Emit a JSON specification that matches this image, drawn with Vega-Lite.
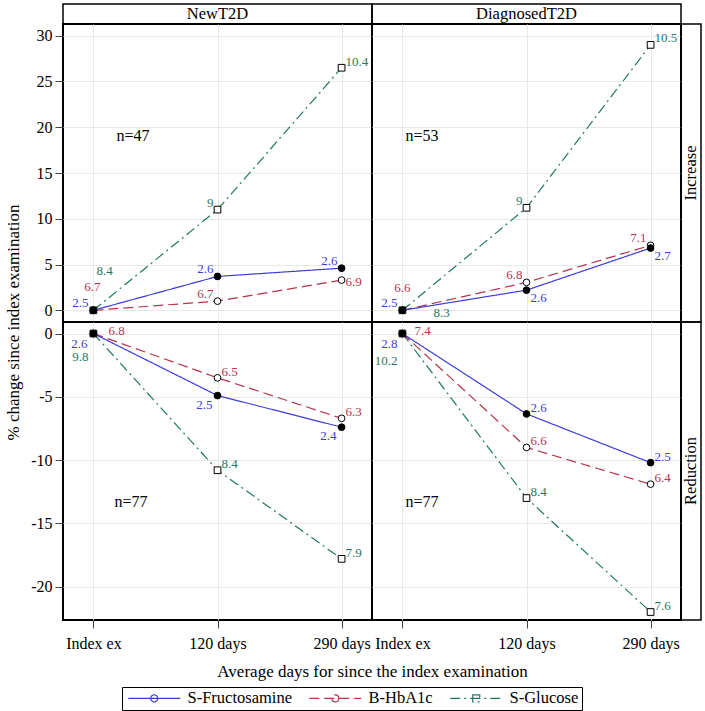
{
  "$schema": "https://vega.github.io/schema/vega-lite/v6.json",
  "background": "white",
  "padding": {"left": 3, "top": 3, "right": 2, "bottom": 2},
  "columns": 3,
  "spacing": 0,
  "bounds": "flush",
  "align": "each",
  "resolve": {"scale": {"y": "independent"}},
  "datasets": {
    "groups": [{"group": "NewT2D"}, {"group": "DiagnosedT2D"}],
    "dirs": [{"dir": "Increase"}, {"dir": "Reduction"}],
    "nInc": [{"group": "NewT2D", "ntext": "n=47"}, {"group": "DiagnosedT2D", "ntext": "n=53"}],
    "nRed": [{"group": "NewT2D", "ntext": "n=77"}, {"group": "DiagnosedT2D", "ntext": "n=77"}],
    "pts": [
      {"group": "NewT2D", "dir": "Increase", "series": "S-Glucose", "time": "Index ex", "day": 0, "value": 0, "lab": "8.4"},
      {"group": "NewT2D", "dir": "Increase", "series": "S-Glucose", "time": "120 days", "day": 120, "value": 11.0, "lab": "9"},
      {"group": "NewT2D", "dir": "Increase", "series": "S-Glucose", "time": "290 days", "day": 290, "value": 26.5, "lab": "10.4"},
      {"group": "NewT2D", "dir": "Increase", "series": "B-HbA1c", "time": "Index ex", "day": 0, "value": 0, "lab": "6.7"},
      {"group": "NewT2D", "dir": "Increase", "series": "B-HbA1c", "time": "120 days", "day": 120, "value": 1.0, "lab": "6.7"},
      {"group": "NewT2D", "dir": "Increase", "series": "B-HbA1c", "time": "290 days", "day": 290, "value": 3.3, "lab": "6.9"},
      {"group": "NewT2D", "dir": "Increase", "series": "S-Fructosamine", "time": "Index ex", "day": 0, "value": 0, "lab": "2.5"},
      {"group": "NewT2D", "dir": "Increase", "series": "S-Fructosamine", "time": "120 days", "day": 120, "value": 3.7, "lab": "2.6"},
      {"group": "NewT2D", "dir": "Increase", "series": "S-Fructosamine", "time": "290 days", "day": 290, "value": 4.6, "lab": "2.6"},

      {"group": "DiagnosedT2D", "dir": "Increase", "series": "S-Glucose", "time": "Index ex", "day": 0, "value": 0, "lab": "8.3"},
      {"group": "DiagnosedT2D", "dir": "Increase", "series": "S-Glucose", "time": "120 days", "day": 120, "value": 11.2, "lab": "9"},
      {"group": "DiagnosedT2D", "dir": "Increase", "series": "S-Glucose", "time": "290 days", "day": 290, "value": 29.0, "lab": "10.5"},
      {"group": "DiagnosedT2D", "dir": "Increase", "series": "B-HbA1c", "time": "Index ex", "day": 0, "value": 0, "lab": "6.6"},
      {"group": "DiagnosedT2D", "dir": "Increase", "series": "B-HbA1c", "time": "120 days", "day": 120, "value": 3.05, "lab": "6.8"},
      {"group": "DiagnosedT2D", "dir": "Increase", "series": "B-HbA1c", "time": "290 days", "day": 290, "value": 7.1, "lab": "7.1"},
      {"group": "DiagnosedT2D", "dir": "Increase", "series": "S-Fructosamine", "time": "Index ex", "day": 0, "value": 0, "lab": "2.5"},
      {"group": "DiagnosedT2D", "dir": "Increase", "series": "S-Fructosamine", "time": "120 days", "day": 120, "value": 2.2, "lab": "2.6"},
      {"group": "DiagnosedT2D", "dir": "Increase", "series": "S-Fructosamine", "time": "290 days", "day": 290, "value": 6.8, "lab": "2.7"},

      {"group": "NewT2D", "dir": "Reduction", "series": "S-Glucose", "time": "Index ex", "day": 0, "value": 0, "lab": "9.8"},
      {"group": "NewT2D", "dir": "Reduction", "series": "S-Glucose", "time": "120 days", "day": 120, "value": -10.8, "lab": "8.4"},
      {"group": "NewT2D", "dir": "Reduction", "series": "S-Glucose", "time": "290 days", "day": 290, "value": -17.8, "lab": "7.9"},
      {"group": "NewT2D", "dir": "Reduction", "series": "B-HbA1c", "time": "Index ex", "day": 0, "value": 0, "lab": "6.8"},
      {"group": "NewT2D", "dir": "Reduction", "series": "B-HbA1c", "time": "120 days", "day": 120, "value": -3.5, "lab": "6.5"},
      {"group": "NewT2D", "dir": "Reduction", "series": "B-HbA1c", "time": "290 days", "day": 290, "value": -6.7, "lab": "6.3"},
      {"group": "NewT2D", "dir": "Reduction", "series": "S-Fructosamine", "time": "Index ex", "day": 0, "value": 0, "lab": "2.6"},
      {"group": "NewT2D", "dir": "Reduction", "series": "S-Fructosamine", "time": "120 days", "day": 120, "value": -4.9, "lab": "2.5"},
      {"group": "NewT2D", "dir": "Reduction", "series": "S-Fructosamine", "time": "290 days", "day": 290, "value": -7.4, "lab": "2.4"},

      {"group": "DiagnosedT2D", "dir": "Reduction", "series": "S-Glucose", "time": "Index ex", "day": 0, "value": 0, "lab": "10.2"},
      {"group": "DiagnosedT2D", "dir": "Reduction", "series": "S-Glucose", "time": "120 days", "day": 120, "value": -13.0, "lab": "8.4"},
      {"group": "DiagnosedT2D", "dir": "Reduction", "series": "S-Glucose", "time": "290 days", "day": 290, "value": -22.0, "lab": "7.6"},
      {"group": "DiagnosedT2D", "dir": "Reduction", "series": "B-HbA1c", "time": "Index ex", "day": 0, "value": 0, "lab": "7.4"},
      {"group": "DiagnosedT2D", "dir": "Reduction", "series": "B-HbA1c", "time": "120 days", "day": 120, "value": -9.0, "lab": "6.6"},
      {"group": "DiagnosedT2D", "dir": "Reduction", "series": "B-HbA1c", "time": "290 days", "day": 290, "value": -11.9, "lab": "6.4"},
      {"group": "DiagnosedT2D", "dir": "Reduction", "series": "S-Fructosamine", "time": "Index ex", "day": 0, "value": 0, "lab": "2.8"},
      {"group": "DiagnosedT2D", "dir": "Reduction", "series": "S-Fructosamine", "time": "120 days", "day": 120, "value": -6.35, "lab": "2.6"},
      {"group": "DiagnosedT2D", "dir": "Reduction", "series": "S-Fructosamine", "time": "290 days", "day": 290, "value": -10.2, "lab": "2.5"}
    ]
  },
  "concat": [
    {
      "width": 309, "height": 20,
      "data": {"name": "groups"},
      "transform": [{"filter": "datum.group==='NewT2D'"}],
      "mark": {"type": "text", "fontSize": 16.5, "color": "black", "font": "Liberation Serif"},
      "encoding": {"text": {"field": "group", "type": "nominal"}},
      "view": {"stroke": "black", "strokeWidth": 1.5}
    },
    {
      "width": 309, "height": 20,
      "data": {"name": "groups"},
      "transform": [{"filter": "datum.group==='DiagnosedT2D'"}],
      "mark": {"type": "text", "fontSize": 16.5, "color": "black", "font": "Liberation Serif"},
      "encoding": {"text": {"field": "group", "type": "nominal"}},
      "view": {"stroke": "black", "strokeWidth": 1.5}
    },
    {
      "width": 20, "height": 20,
      "data": {"name": "dirs"},
      "transform": [{"filter": "false"}],
      "mark": {"type": "text"},
      "encoding": {"text": {"field": "dir", "type": "nominal"}},
      "view": {"stroke": null}
    },
    {
      "width": 309, "height": 298,
      "data": {"name": "pts"},
      "transform": [{"filter": "datum.group==='NewT2D' && datum.dir==='Increase'"}],
      "encoding": {
        "x": {"field": "time", "type": "nominal", "scale": {"type": "point", "domain": ["Index ex", "120 days", "290 days"], "padding": 0.245}, "axis": {"labels": false, "ticks": false, "title": null, "grid": true}},
        "y": {"field": "value", "type": "quantitative", "scale": {"domain": [-1.28, 31.28], "nice": false, "zero": false}, "axis": {"values": [0, 5, 10, 15, 20, 25, 30], "title": null, "grid": true, "labelExpr": "'' + datum.value", "labelFont": "Liberation Serif", "labelFontSize": 16}}
      },
      "layer": [
        {
          "mark": {"type": "line", "strokeWidth": 1.2},
          "encoding": {
            "color": {"field": "series", "type": "nominal", "scale": {"domain": ["S-Fructosamine", "B-HbA1c", "S-Glucose"], "range": ["#3d3dd6", "#b8324a", "#1f7866"]}},
            "strokeDash": {"field": "series", "type": "nominal", "scale": {"domain": ["S-Fructosamine", "B-HbA1c", "S-Glucose"], "range": [[1, 0], [10, 5], [10, 4, 2, 4]]}},
            "order": {"field": "day", "type": "quantitative"}
          }
        },
        {
          "mark": {"type": "point", "size": 45, "stroke": "black", "strokeWidth": 1, "opacity": 1},
          "encoding": {
            "shape": {"condition": {"test": "datum.series==='S-Glucose'", "value": "square"}, "value": "circle"},
            "fill": {"condition": {"test": "datum.series==='S-Fructosamine'", "value": "black"}, "value": "white"}
          }
        },
        {
          "encoding": {
            "text": {"field": "lab", "type": "nominal"},
            "color": {"condition": [{"test": "datum.series==='S-Fructosamine'", "value": "#3d3dd6"}, {"test": "datum.series==='B-HbA1c'", "value": "#b8324a"}], "value": "#1f7866"}
          },
          "layer": [
            {"transform": [{"filter": "datum.time==='120 days' || (datum.time==='290 days' && datum.series==='S-Fructosamine')"}], "mark": {"type": "text", "font": "Liberation Serif", "fontSize": 13, "baseline": "alphabetic", "align": "right", "dx": -4, "dy": -3}},
            {"transform": [{"filter": "datum.time==='290 days' && datum.series==='B-HbA1c'"}], "mark": {"type": "text", "font": "Liberation Serif", "fontSize": 13, "baseline": "middle", "align": "left", "dx": 4, "dy": 2}},
            {"transform": [{"filter": "datum.time==='290 days' && datum.series==='S-Glucose'"}], "mark": {"type": "text", "font": "Liberation Serif", "fontSize": 13, "baseline": "alphabetic", "align": "left", "dx": 4, "dy": -2}},
            {"transform": [{"filter": "datum.time==='Index ex' && datum.series==='S-Fructosamine'"}], "mark": {"type": "text", "font": "Liberation Serif", "fontSize": 13, "baseline": "alphabetic", "align": "right", "dx": -5, "dy": -3}},
            {"transform": [{"filter": "datum.time==='Index ex' && datum.series==='B-HbA1c'"}], "mark": {"type": "text", "font": "Liberation Serif", "fontSize": 13, "baseline": "alphabetic", "align": "center", "dx": -1, "dy": -19}},
            {"transform": [{"filter": "datum.time==='Index ex' && datum.series==='S-Glucose'"}], "mark": {"type": "text", "font": "Liberation Serif", "fontSize": 13, "baseline": "alphabetic", "align": "left", "dx": 3, "dy": -35}}
          ]
        },
        {
          "transform": [{"filter": "datum.time==='Index ex' && datum.series==='S-Fructosamine'"}, {"lookup": "group", "from": {"data": {"name": "nInc"}, "key": "group", "fields": ["ntext"]}}],
          "mark": {"type": "text", "font": "Liberation Serif", "fontSize": 16, "align": "left", "baseline": "middle", "dx": 23, "color": "black"},
          "encoding": {"y": {"datum": 19}, "text": {"field": "ntext", "type": "nominal"}}
        }
      ]
    },
    {
      "width": 309, "height": 298,
      "data": {"name": "pts"},
      "transform": [{"filter": "datum.group==='DiagnosedT2D' && datum.dir==='Increase'"}],
      "encoding": {
        "x": {"field": "time", "type": "nominal", "scale": {"type": "point", "domain": ["Index ex", "120 days", "290 days"], "padding": 0.245}, "axis": {"labels": false, "ticks": false, "title": null, "grid": true}},
        "y": {"field": "value", "type": "quantitative", "scale": {"domain": [-1.28, 31.28], "nice": false, "zero": false}, "axis": {"values": [0, 5, 10, 15, 20, 25, 30], "title": null, "grid": true, "labels": false, "ticks": false}}
      },
      "layer": [
        {
          "mark": {"type": "line", "strokeWidth": 1.2},
          "encoding": {
            "color": {"field": "series", "type": "nominal", "scale": {"domain": ["S-Fructosamine", "B-HbA1c", "S-Glucose"], "range": ["#3d3dd6", "#b8324a", "#1f7866"]}},
            "strokeDash": {"field": "series", "type": "nominal", "scale": {"domain": ["S-Fructosamine", "B-HbA1c", "S-Glucose"], "range": [[1, 0], [10, 5], [10, 4, 2, 4]]}},
            "order": {"field": "day", "type": "quantitative"}
          }
        },
        {
          "mark": {"type": "point", "size": 45, "stroke": "black", "strokeWidth": 1, "opacity": 1},
          "encoding": {
            "shape": {"condition": {"test": "datum.series==='S-Glucose'", "value": "square"}, "value": "circle"},
            "fill": {"condition": {"test": "datum.series==='S-Fructosamine'", "value": "black"}, "value": "white"}
          }
        },
        {
          "encoding": {
            "text": {"field": "lab", "type": "nominal"},
            "color": {"condition": [{"test": "datum.series==='S-Fructosamine'", "value": "#3d3dd6"}, {"test": "datum.series==='B-HbA1c'", "value": "#b8324a"}], "value": "#1f7866"}
          },
          "layer": [
            {"transform": [{"filter": "(datum.time==='120 days' && datum.series!=='S-Fructosamine') || (datum.time==='290 days' && datum.series==='B-HbA1c')"}], "mark": {"type": "text", "font": "Liberation Serif", "fontSize": 13, "baseline": "alphabetic", "align": "right", "dx": -4, "dy": -3}},
            {"transform": [{"filter": "datum.time==='290 days' && datum.series==='S-Glucose'"}], "mark": {"type": "text", "font": "Liberation Serif", "fontSize": 13, "baseline": "alphabetic", "align": "left", "dx": 4, "dy": -3}},
            {"transform": [{"filter": "datum.time!=='Index ex' && datum.series==='S-Fructosamine'"}], "mark": {"type": "text", "font": "Liberation Serif", "fontSize": 13, "baseline": "alphabetic", "align": "left", "dx": 4, "dy": 12}},
            {"transform": [{"filter": "datum.time==='Index ex' && datum.series==='S-Fructosamine'"}], "mark": {"type": "text", "font": "Liberation Serif", "fontSize": 13, "baseline": "alphabetic", "align": "right", "dx": -5, "dy": -3}},
            {"transform": [{"filter": "datum.time==='Index ex' && datum.series==='B-HbA1c'"}], "mark": {"type": "text", "font": "Liberation Serif", "fontSize": 13, "baseline": "alphabetic", "align": "center", "dx": 0, "dy": -18}},
            {"transform": [{"filter": "datum.time==='Index ex' && datum.series==='S-Glucose'"}], "mark": {"type": "text", "font": "Liberation Serif", "fontSize": 13, "baseline": "alphabetic", "align": "left", "dx": 31, "dy": 7}}
          ]
        },
        {
          "transform": [{"filter": "datum.time==='Index ex' && datum.series==='S-Fructosamine'"}, {"lookup": "group", "from": {"data": {"name": "nInc"}, "key": "group", "fields": ["ntext"]}}],
          "mark": {"type": "text", "font": "Liberation Serif", "fontSize": 16, "align": "left", "baseline": "middle", "dx": 3, "color": "black"},
          "encoding": {"y": {"datum": 19}, "text": {"field": "ntext", "type": "nominal"}}
        }
      ]
    },
    {
      "width": 20, "height": 298,
      "data": {"name": "dirs"},
      "transform": [{"filter": "datum.dir==='Increase'"}],
      "mark": {"type": "text", "font": "Liberation Serif", "fontSize": 16.5, "angle": 270, "color": "black"},
      "encoding": {"text": {"field": "dir", "type": "nominal"}},
      "view": {"stroke": "black", "strokeWidth": 1.5}
    },
    {
      "width": 309, "height": 298,
      "data": {"name": "pts"},
      "transform": [{"filter": "datum.group==='NewT2D' && datum.dir==='Reduction'"}],
      "encoding": {
        "x": {"field": "time", "type": "nominal", "scale": {"type": "point", "domain": ["Index ex", "120 days", "290 days"], "padding": 0.245}, "axis": {"grid": true, "labelAngle": 0, "labelOverlap": false, "labelPadding": 7, "labelFont": "Liberation Serif", "labelFontSize": 16, "title": "Average days for since the index examination", "titleFont": "Liberation Serif", "titleFontSize": 17, "titleX": 309, "titlePadding": 12}},
        "y": {"field": "value", "type": "quantitative", "scale": {"domain": [-22.63, 0.91], "nice": false, "zero": false}, "axis": {"values": [-20, -15, -10, -5, 0], "title": "% change since index examination", "titleFont": "Liberation Serif", "titleFontSize": 17, "titleY": 0, "titlePadding": 8, "grid": true, "labelExpr": "'' + datum.value", "labelFont": "Liberation Serif", "labelFontSize": 16}}
      },
      "layer": [
        {
          "mark": {"type": "line", "strokeWidth": 1.2},
          "encoding": {
            "color": {"field": "series", "type": "nominal", "scale": {"domain": ["S-Fructosamine", "B-HbA1c", "S-Glucose"], "range": ["#3d3dd6", "#b8324a", "#1f7866"]}},
            "strokeDash": {"field": "series", "type": "nominal", "scale": {"domain": ["S-Fructosamine", "B-HbA1c", "S-Glucose"], "range": [[1, 0], [10, 5], [10, 4, 2, 4]]}},
            "order": {"field": "day", "type": "quantitative"}
          }
        },
        {
          "transform": [{"filter": "false"}],
          "mark": {"type": "point", "size": 100, "strokeWidth": 1.2, "opacity": 1},
          "encoding": {
            "color": {"field": "series", "type": "nominal", "scale": {"domain": ["S-Fructosamine", "B-HbA1c", "S-Glucose"], "range": ["#3d3dd6", "#b8324a", "#1f7866"]}, "legend": {"orient": "none", "legendX": 59, "legendY": 683, "direction": "horizontal", "title": null, "strokeColor": "black", "padding": 3, "labelFont": "Liberation Serif", "labelFontSize": 16.5, "labelColor": "black", "labelOffset": 46, "symbolSize": 100, "symbolStrokeWidth": 1.2, "symbolOpacity": 1, "columnPadding": 14, "encode": {"symbols": {"update": {"fill": {"signal": "(datum.index === 0 || datum.label === 'S-Fructosamine') ? 'black' : 'white'"}, "opacity": {"value": 1}}}}}},
            "strokeDash": {"field": "series", "type": "nominal", "scale": {"domain": ["S-Fructosamine", "B-HbA1c", "S-Glucose"], "range": [[1, 0], [10, 5], [10, 4, 2, 4]]}},
            "shape": {"field": "series", "type": "nominal", "scale": {"domain": ["S-Fructosamine", "B-HbA1c", "S-Glucose"], "range": ["M-1,0H9.4M4.9,0A0.7,0.7,0,1,1,3.5,0A0.7,0.7,0,1,1,4.9,0Z", "M-1,0H9.4M4.9,0A0.7,0.7,0,1,1,3.5,0A0.7,0.7,0,1,1,4.9,0Z", "M-1,0H9.4M3.5,-0.7H4.9V0.7H3.5Z"]}}
          }
        },
        {
          "mark": {"type": "point", "size": 45, "stroke": "black", "strokeWidth": 1, "opacity": 1},
          "encoding": {
            "shape": {"condition": {"test": "datum.series==='S-Glucose'", "value": "square"}, "value": "circle"},
            "fill": {"condition": {"test": "datum.series==='S-Fructosamine'", "value": "black"}, "value": "white"}
          }
        },
        {
          "encoding": {
            "text": {"field": "lab", "type": "nominal"},
            "color": {"condition": [{"test": "datum.series==='S-Fructosamine'", "value": "#3d3dd6"}, {"test": "datum.series==='B-HbA1c'", "value": "#b8324a"}], "value": "#1f7866"}
          },
          "layer": [
            {"transform": [{"filter": "datum.time!=='Index ex' && datum.series!=='S-Fructosamine'"}], "mark": {"type": "text", "font": "Liberation Serif", "fontSize": 13, "baseline": "alphabetic", "align": "left", "dx": 4, "dy": -2}},
            {"transform": [{"filter": "datum.time!=='Index ex' && datum.series==='S-Fructosamine'"}], "mark": {"type": "text", "font": "Liberation Serif", "fontSize": 13, "baseline": "alphabetic", "align": "right", "dx": -5, "dy": 13}},
            {"transform": [{"filter": "datum.time==='Index ex' && datum.series==='B-HbA1c'"}], "mark": {"type": "text", "font": "Liberation Serif", "fontSize": 13, "baseline": "alphabetic", "align": "left", "dx": 15, "dy": 1}},
            {"transform": [{"filter": "datum.time==='Index ex' && datum.series==='S-Fructosamine'"}], "mark": {"type": "text", "font": "Liberation Serif", "fontSize": 13, "baseline": "alphabetic", "align": "right", "dx": -6, "dy": 14}},
            {"transform": [{"filter": "datum.time==='Index ex' && datum.series==='S-Glucose'"}], "mark": {"type": "text", "font": "Liberation Serif", "fontSize": 13, "baseline": "alphabetic", "align": "right", "dx": -5, "dy": 27}}
          ]
        },
        {
          "transform": [{"filter": "datum.time==='Index ex' && datum.series==='S-Fructosamine'"}, {"lookup": "group", "from": {"data": {"name": "nRed"}, "key": "group", "fields": ["ntext"]}}],
          "mark": {"type": "text", "font": "Liberation Serif", "fontSize": 16, "align": "left", "baseline": "middle", "dx": 21, "color": "black"},
          "encoding": {"y": {"datum": -13.3}, "text": {"field": "ntext", "type": "nominal"}}
        }
      ]
    },
    {
      "width": 309, "height": 298,
      "data": {"name": "pts"},
      "transform": [{"filter": "datum.group==='DiagnosedT2D' && datum.dir==='Reduction'"}],
      "encoding": {
        "x": {"field": "time", "type": "nominal", "scale": {"type": "point", "domain": ["Index ex", "120 days", "290 days"], "padding": 0.245}, "axis": {"grid": true, "labelAngle": 0, "labelOverlap": false, "labelPadding": 7, "labelFont": "Liberation Serif", "labelFontSize": 16, "title": null}},
        "y": {"field": "value", "type": "quantitative", "scale": {"domain": [-22.63, 0.91], "nice": false, "zero": false}, "axis": {"values": [-20, -15, -10, -5, 0], "title": null, "grid": true, "labels": false, "ticks": false}}
      },
      "layer": [
        {
          "mark": {"type": "line", "strokeWidth": 1.2},
          "encoding": {
            "color": {"field": "series", "type": "nominal", "scale": {"domain": ["S-Fructosamine", "B-HbA1c", "S-Glucose"], "range": ["#3d3dd6", "#b8324a", "#1f7866"]}},
            "strokeDash": {"field": "series", "type": "nominal", "scale": {"domain": ["S-Fructosamine", "B-HbA1c", "S-Glucose"], "range": [[1, 0], [10, 5], [10, 4, 2, 4]]}},
            "order": {"field": "day", "type": "quantitative"}
          }
        },
        {
          "mark": {"type": "point", "size": 45, "stroke": "black", "strokeWidth": 1, "opacity": 1},
          "encoding": {
            "shape": {"condition": {"test": "datum.series==='S-Glucose'", "value": "square"}, "value": "circle"},
            "fill": {"condition": {"test": "datum.series==='S-Fructosamine'", "value": "black"}, "value": "white"}
          }
        },
        {
          "encoding": {
            "text": {"field": "lab", "type": "nominal"},
            "color": {"condition": [{"test": "datum.series==='S-Fructosamine'", "value": "#3d3dd6"}, {"test": "datum.series==='B-HbA1c'", "value": "#b8324a"}], "value": "#1f7866"}
          },
          "layer": [
            {"transform": [{"filter": "datum.time!=='Index ex'"}], "mark": {"type": "text", "font": "Liberation Serif", "fontSize": 13, "baseline": "alphabetic", "align": "left", "dx": 4, "dy": -2}},
            {"transform": [{"filter": "datum.time==='Index ex' && datum.series==='B-HbA1c'"}], "mark": {"type": "text", "font": "Liberation Serif", "fontSize": 13, "baseline": "alphabetic", "align": "left", "dx": 12, "dy": 1}},
            {"transform": [{"filter": "datum.time==='Index ex' && datum.series==='S-Fructosamine'"}], "mark": {"type": "text", "font": "Liberation Serif", "fontSize": 13, "baseline": "alphabetic", "align": "right", "dx": -5, "dy": 14}},
            {"transform": [{"filter": "datum.time==='Index ex' && datum.series==='S-Glucose'"}], "mark": {"type": "text", "font": "Liberation Serif", "fontSize": 13, "baseline": "alphabetic", "align": "right", "dx": -5, "dy": 31}}
          ]
        },
        {
          "transform": [{"filter": "datum.time==='Index ex' && datum.series==='S-Fructosamine'"}, {"lookup": "group", "from": {"data": {"name": "nRed"}, "key": "group", "fields": ["ntext"]}}],
          "mark": {"type": "text", "font": "Liberation Serif", "fontSize": 16, "align": "left", "baseline": "middle", "dx": 3, "color": "black"},
          "encoding": {"y": {"datum": -13.3}, "text": {"field": "ntext", "type": "nominal"}}
        }
      ]
    },
    {
      "width": 20, "height": 298,
      "data": {"name": "dirs"},
      "transform": [{"filter": "datum.dir==='Reduction'"}],
      "mark": {"type": "text", "font": "Liberation Serif", "fontSize": 16.5, "angle": 270, "color": "black"},
      "encoding": {"text": {"field": "dir", "type": "nominal"}},
      "view": {"stroke": "black", "strokeWidth": 1.5}
    }
  ],
  "config": {
    "font": "Liberation Serif",
    "text": {"font": "Liberation Serif"},
    "style": {"guide-label": {"font": "Liberation Serif"}, "guide-title": {"font": "Liberation Serif"}},
    "view": {"stroke": "black", "strokeWidth": 2},
    "axis": {
      "labelFont": "Liberation Serif",
      "titleFont": "Liberation Serif",
      "labelFontSize": 16,
      "titleFontSize": 17,
      "titleFontWeight": "normal",
      "labelColor": "black",
      "titleColor": "black",
      "tickColor": "#444444",
      "tickSize": 8,
      "labelPadding": 3,
      "domain": false,
      "gridColor": "#e8e8e8",
      "gridWidth": 1
    },
    "legend": {
      "labelFont": "Liberation Serif",
      "labelFontSize": 16.5
    }
  }
}
